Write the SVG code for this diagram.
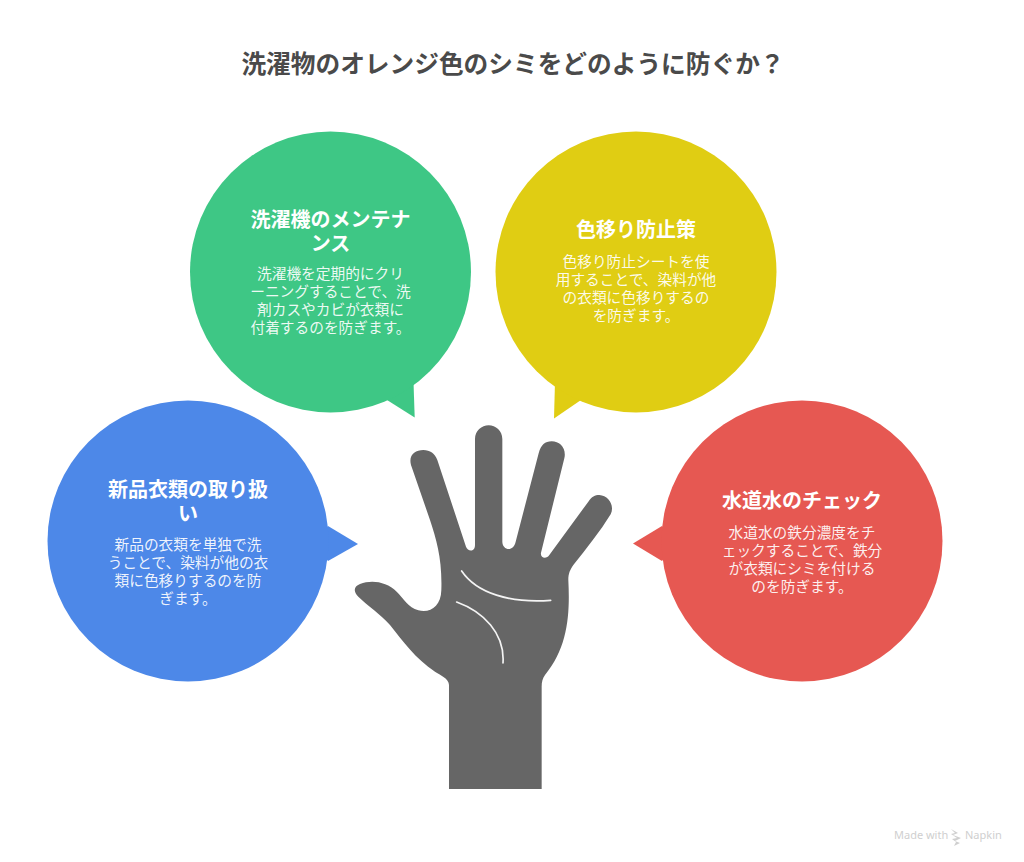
<svg xmlns="http://www.w3.org/2000/svg" width="1024" height="862" viewBox="0 0 1024 862">
<style>
text{font-family:"Noto Sans CJK JP","Noto Sans",sans-serif;text-anchor:middle}
.t{font-size:20px;font-weight:700;fill:#fff}
.b{font-size:14.7px;fill:#fff;fill-opacity:.92}
</style>
<rect width="1024" height="862" fill="#fff"/>
<text id="title" x="513" y="73" font-size="24.7" font-weight="700" fill="#4a4a4a">洗濯物のオレンジ色のシミをどのように防ぐか？</text>
<g id="node-maintenance">
<path fill="#3ec785" d="M387 400L414.700 417.500L413.500 382L380 385Z"/><circle cx="330.500" cy="272" r="140.500" fill="#3ec785"/>
<text class="t"><tspan x="330.500" y="227">洗濯機のメンテナ</tspan><tspan x="330.500" y="251">ンス</tspan></text>
<text class="b"><tspan x="330.500" y="279">洗濯機を定期的にクリ</tspan><tspan x="330.500" y="297">ーニングすることで、洗</tspan><tspan x="330.500" y="315">剤カスやカビが衣類に</tspan><tspan x="330.500" y="333">付着するのを防ぎます。</tspan></text>
</g>
<g id="node-sheet">
<path fill="#e0cd13" d="M581 400L554 418.500L555 382L590 385Z"/><circle cx="636" cy="272" r="140.500" fill="#e0cd13"/>
<text class="t" x="636" y="237">色移り防止策</text>
<text class="b"><tspan x="636" y="267">色移り防止シートを使</tspan><tspan x="636" y="285">用することで、染料が他</tspan><tspan x="636" y="303">の衣類に色移りするの</tspan><tspan x="636" y="321">を防ぎます。</tspan></text>
</g>
<g id="node-new">
<path fill="#4d88e8" d="M328 526L358 544L328 561L315 545Z"/><circle cx="188" cy="541" r="140.500" fill="#4d88e8"/>
<text class="t"><tspan x="188" y="497">新品衣類の取り扱</tspan><tspan x="188" y="521">い</tspan></text>
<text class="b"><tspan x="188" y="550">新品の衣類を単独で洗</tspan><tspan x="188" y="568">うことで、染料が他の衣</tspan><tspan x="188" y="586">類に色移りするのを防</tspan><tspan x="188" y="604">ぎます。</tspan></text>
</g>
<g id="node-water">
<path fill="#e65852" d="M662 526L633 543.500L662 561L675 545Z"/><circle cx="802" cy="541" r="140.500" fill="#e65852"/>
<text class="t" x="802" y="508">水道水のチェック</text>
<text class="b"><tspan x="802" y="538">水道水の鉄分濃度をチ</tspan><tspan x="802" y="556">ェックすることで、鉄分</tspan><tspan x="802" y="574">が衣類にシミを付ける</tspan><tspan x="802" y="592">のを防ぎます。</tspan></text>
</g>
<g id="hand" transform="translate(340 400) scale(.33333)">
<path fill="#666" d="M327 1167L327 855C327 835 300 825 285 815C225 775 190 725 150 675C120 640 85 620 55 590C40 575 40 560 60 552C95 538 140 545 170 575C190 595 205 622 235 631C270 640 303 620 304 570C307 480 290 420 270 360L213 195C205 165 225 150 250 150C270 150 285 160 292 180L378 440C383 455 405 457 405 435L405 117C405 92 425 76 446 76C467 76 487 92 487 117L487 425C487 450 520 458 527 425L596 160C603 135 615 124 635 124C660 124 680 145 673 175L603 458C600 475 620 478 628 465L745 305C755 290 765 285 778 285C805 287 825 315 812 343C780 395 740 445 700 495C690 510 685 520 685 540C690 640 685 740 615 825C608 835 605 845 605 860L605 1167Z"/>
<path fill="none" stroke="#f4f4f4" stroke-width="5" stroke-linecap="round" d="M365 513C410 580 510 610 632 601M350 606C430 635 495 700 489 789"/>
</g>
<g id="footer" fill="#cfcfcf">
<text x="894" y="839" font-size="11" style="text-anchor:start;font-family:'Noto Sans',sans-serif">Made with</text>
<path d="M951 829L958 833L953 835L961 838L955 841L960 843L954 846L956 842L952 839L957 838L951 834L955 833Z"/>
<text x="965" y="839" font-size="11" style="text-anchor:start;font-family:'Noto Sans',sans-serif">Napkin</text>
</g>
</svg>
